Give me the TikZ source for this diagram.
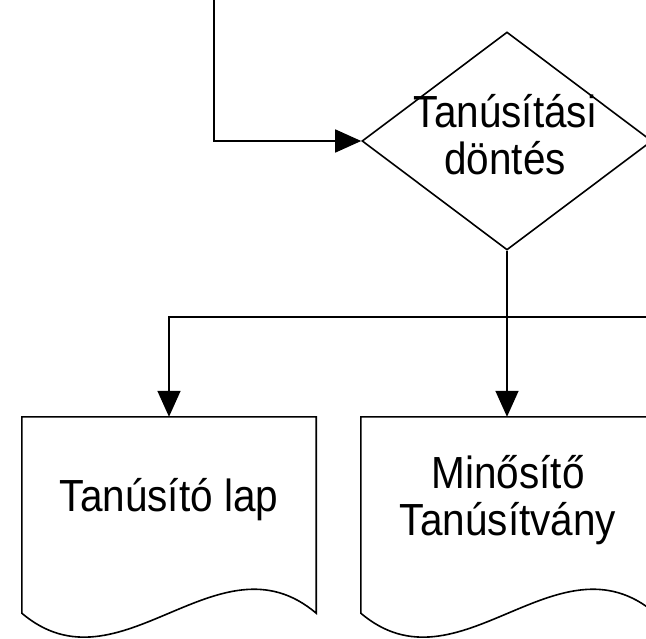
\documentclass[tikz,border=0pt]{standalone}
\usepackage{fontspec}
\setmainfont[FakeStretch=0.9]{Liberation Sans}
\usetikzlibrary{shapes.geometric,arrows.meta}
\begin{document}
\begin{tikzpicture}[x=1pt,y=-1pt,
  line/.style={draw=black,line width=1.6pt},
  arr/.style={line,-{Triangle[length=26pt,width=23pt]}},
  decision/.style={diamond,line,fill=white,inner sep=0pt,minimum width=290pt,minimum height=218pt},
  docbox/.style={rectangle,draw=none,inner sep=0pt,minimum width=294pt,minimum height=196pt},
  txt/.style={font=\fontsize{45}{47}\selectfont,align=center,inner sep=0pt}
]
\useasboundingbox (0,0) rectangle (646,639);
\clip (0,0) rectangle (646,639);
\newcommand{\docoutline}[1]{%
  \draw[line,line join=miter] (#1.north west) -- (#1.north east) -- (#1.south east)
    .. controls +(-98,-83) and +(98,83) .. (#1.south west) -- cycle;}

\node[decision] (dec) at (507,141) {};
\node[txt] (dectext) at (505,135) {Tanúsítási\\döntés};

\node[docbox] (docA) at (169,515) {};
\node[docbox] (docB) at (508,515) {};
\docoutline{docA}
\docoutline{docB}
\node[txt] (docAtext) at (169,500) {Tanúsító lap};
\node[txt] (docBtext) at (508,500) {Minősítő\\Tanúsítvány};

\coordinate (src) at (214,-5);
\coordinate (rightEnd) at (670,317);
\coordinate (br) at (507,317);

\draw[arr] (src) |- (dec.west);
\draw[arr] (dec.south) -- (docB.north -| dec.south);
\draw[arr] (rightEnd) -| (docA.north);
\end{tikzpicture}
\end{document}
